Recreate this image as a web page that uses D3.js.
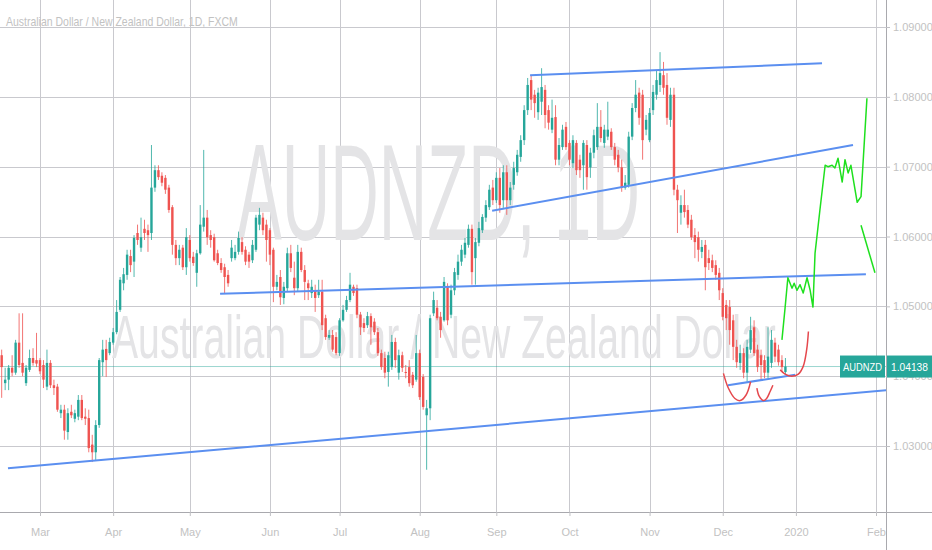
<!DOCTYPE html>
<html><head><meta charset="utf-8">
<script src="https://cdn.jsdelivr.net/npm/d3@7"></script>
<style>body{margin:0;background:#fff;}svg{display:block;font-family:"Liberation Sans",Arial,sans-serif;}</style>
</head><body><svg id="c" width="932" height="550"></svg>
<script>
// ---------- DATA ----------
const startDay = "2019-02-14";
const skipDays = ["2019-12-25"];
const opens = [1.0430,1.0390,1.0395,1.0412,1.0405,1.0448,1.0419,1.0390,1.0409,1.0426,1.0423,1.0423,1.0416,1.0385,1.0419,1.0387,1.0385,1.0347,1.0352,1.0320,1.0349,1.0339,1.0342,1.0366,1.0342,1.0340,1.0302,1.0291,1.0330,1.0420,1.0439,1.0433,1.0448,1.0463,1.0495,1.0533,1.0545,1.0572,1.0564,1.0605,1.0584,1.0611,1.0609,1.0605,1.0670,1.0695,1.0687,1.0684,1.0670,1.0642,1.0588,1.0569,1.0584,1.0556,1.0595,1.0571,1.0548,1.0576,1.0614,1.0627,1.0602,1.0599,1.0576,1.0562,1.0556,1.0545,1.0569,1.0569,1.0578,1.0592,1.0581,1.0574,1.0566,1.0581,1.0617,1.0627,1.0617,1.0609,1.0581,1.0528,1.0542,1.0512,1.0526,1.0576,1.0541,1.0526,1.0578,1.0552,1.0533,1.0519,1.0523,1.0516,1.0521,1.0483,1.0455,1.0459,1.0456,1.0433,1.0480,1.0495,1.0509,1.0528,1.0526,1.0488,1.0476,1.0473,1.0486,1.0478,1.0463,1.0433,1.0426,1.0406,1.0413,1.0449,1.0405,1.0430,1.0406,1.0413,1.0402,1.0395,1.0433,1.0399,1.0344,1.0354,1.0490,1.0498,1.0485,1.0480,1.0528,1.0488,1.0523,1.0545,1.0564,1.0574,1.0588,1.0611,1.0569,1.0591,1.0609,1.0627,1.0642,1.0670,1.0652,1.0684,1.0652,1.0692,1.0652,1.0674,1.0692,1.0714,1.0738,1.0781,1.0824,1.0803,1.0778,1.0793,1.0810,1.0781,1.0753,1.0771,1.0710,1.0728,1.0757,1.0734,1.0705,1.0734,1.0710,1.0702,1.0731,1.0699,1.0720,1.0728,1.0757,1.0734,1.0743,1.0750,1.0728,1.0717,1.0699,1.0670,1.0674,1.0743,1.0784,1.0806,1.0803,1.0753,1.0738,1.0781,1.0803,1.0817,1.0831,1.0817,1.0767,1.0803,1.0667,1.0634,1.0645,1.0638,1.0624,1.0602,1.0599,1.0578,1.0588,1.0569,1.0566,1.0559,1.0548,1.0519,1.0502,1.0499,1.0480,1.0442,1.0419,1.0433,1.0405,1.0438,1.0470,1.0438,1.0430,1.0423,1.0405,1.0419,1.0448,1.0438,1.0423,1.0406];
const highs = [1.0438,1.0412,1.0416,1.0430,1.0452,1.0490,1.0490,1.0416,1.0438,1.0440,1.0462,1.0426,1.0423,1.0438,1.0423,1.0395,1.0389,1.0359,1.0359,1.0354,1.0359,1.0352,1.0373,1.0373,1.0354,1.0352,1.0316,1.0337,1.0426,1.0452,1.0452,1.0455,1.0469,1.0509,1.0542,1.0555,1.0581,1.0581,1.0602,1.0617,1.0627,1.0624,1.0617,1.0731,1.0702,1.0702,1.0692,1.0688,1.0674,1.0645,1.0595,1.0588,1.0588,1.0612,1.0602,1.0578,1.0581,1.0645,1.0724,1.0638,1.0609,1.0604,1.0581,1.0569,1.0561,1.0552,1.0595,1.0588,1.0607,1.0599,1.0586,1.0578,1.0595,1.0631,1.0641,1.0634,1.0624,1.0612,1.0584,1.0545,1.0552,1.0535,1.0584,1.0588,1.0564,1.0588,1.0584,1.0559,1.0538,1.0538,1.0531,1.0538,1.0538,1.0488,1.0466,1.0466,1.0463,1.0483,1.0502,1.0515,1.0548,1.0531,1.0531,1.0492,1.0483,1.0492,1.0490,1.0483,1.0469,1.0438,1.0435,1.0435,1.0459,1.0455,1.0438,1.0435,1.0416,1.0423,1.0406,1.0459,1.0438,1.0403,1.0366,1.0488,1.0521,1.0509,1.0492,1.0542,1.0533,1.0531,1.0555,1.0574,1.0588,1.0598,1.0617,1.0617,1.0598,1.0621,1.0632,1.0652,1.0674,1.0681,1.0692,1.0698,1.0702,1.0702,1.0678,1.0707,1.0724,1.0745,1.0788,1.0827,1.0831,1.0810,1.0813,1.0841,1.0817,1.0788,1.0796,1.0788,1.0741,1.0760,1.0764,1.0738,1.0745,1.0738,1.0717,1.0738,1.0738,1.0727,1.0753,1.0791,1.0781,1.0760,1.0793,1.0755,1.0734,1.0724,1.0710,1.0688,1.0750,1.0791,1.0824,1.0813,1.0810,1.0774,1.0784,1.0817,1.0838,1.0864,1.0850,1.0834,1.0813,1.0813,1.0674,1.0659,1.0667,1.0645,1.0631,1.0612,1.0607,1.0595,1.0595,1.0581,1.0574,1.0566,1.0555,1.0526,1.0509,1.0509,1.0488,1.0452,1.0445,1.0440,1.0452,1.0485,1.0480,1.0445,1.0438,1.0430,1.0470,1.0466,1.0455,1.0445,1.0430,1.0426];
const lows = [1.0369,1.0380,1.0380,1.0400,1.0402,1.0412,1.0400,1.0386,1.0406,1.0415,1.0413,1.0403,1.0383,1.0380,1.0383,1.0373,1.0349,1.0340,1.0309,1.0309,1.0340,1.0334,1.0337,1.0337,1.0330,1.0291,1.0277,1.0280,1.0326,1.0400,1.0399,1.0430,1.0445,1.0460,1.0492,1.0523,1.0538,1.0549,1.0542,1.0588,1.0578,1.0595,1.0578,1.0595,1.0664,1.0681,1.0672,1.0661,1.0634,1.0574,1.0559,1.0559,1.0552,1.0545,1.0564,1.0558,1.0528,1.0574,1.0607,1.0588,1.0584,1.0564,1.0559,1.0548,1.0519,1.0528,1.0564,1.0566,1.0574,1.0574,1.0559,1.0555,1.0562,1.0578,1.0609,1.0602,1.0564,1.0559,1.0506,1.0523,1.0502,1.0503,1.0521,1.0549,1.0516,1.0521,1.0549,1.0509,1.0509,1.0512,1.0492,1.0512,1.0466,1.0452,1.0452,1.0435,1.0430,1.0429,1.0478,1.0492,1.0506,1.0515,1.0483,1.0459,1.0463,1.0469,1.0445,1.0459,1.0429,1.0409,1.0397,1.0385,1.0409,1.0412,1.0395,1.0406,1.0397,1.0385,1.0383,1.0392,1.0366,1.0352,1.0266,1.0337,1.0486,1.0480,1.0455,1.0478,1.0473,1.0483,1.0516,1.0538,1.0558,1.0569,1.0584,1.0531,1.0531,1.0586,1.0605,1.0621,1.0638,1.0645,1.0648,1.0634,1.0641,1.0631,1.0645,1.0667,1.0687,1.0707,1.0731,1.0774,1.0781,1.0770,1.0767,1.0774,1.0755,1.0753,1.0748,1.0702,1.0702,1.0724,1.0724,1.0702,1.0698,1.0688,1.0684,1.0667,1.0667,1.0684,1.0712,1.0724,1.0735,1.0727,1.0738,1.0724,1.0702,1.0692,1.0664,1.0667,1.0670,1.0738,1.0778,1.0760,1.0710,1.0745,1.0735,1.0774,1.0796,1.0807,1.0803,1.0760,1.0757,1.0659,1.0605,1.0617,1.0627,1.0612,1.0595,1.0569,1.0564,1.0569,1.0523,1.0552,1.0549,1.0538,1.0509,1.0480,1.0466,1.0445,1.0423,1.0412,1.0409,1.0397,1.0392,1.0433,1.0429,1.0406,1.0395,1.0397,1.0397,1.0412,1.0420,1.0415,1.0406,1.0402];
const closes = [1.0413,1.0395,1.0412,1.0405,1.0448,1.0416,1.0405,1.0412,1.0426,1.0419,1.0418,1.0407,1.0395,1.0419,1.0387,1.0383,1.0352,1.0352,1.0322,1.0347,1.0344,1.0347,1.0366,1.0340,1.0339,1.0297,1.0291,1.0330,1.0423,1.0438,1.0423,1.0449,1.0463,1.0492,1.0538,1.0546,1.0574,1.0559,1.0598,1.0595,1.0599,1.0605,1.0602,1.0670,1.0695,1.0685,1.0677,1.0667,1.0638,1.0588,1.0569,1.0581,1.0556,1.0599,1.0569,1.0562,1.0576,1.0617,1.0627,1.0599,1.0595,1.0566,1.0562,1.0552,1.0542,1.0533,1.0584,1.0578,1.0598,1.0578,1.0564,1.0564,1.0588,1.0627,1.0631,1.0609,1.0595,1.0574,1.0528,1.0535,1.0513,1.0528,1.0576,1.0555,1.0526,1.0578,1.0552,1.0535,1.0526,1.0528,1.0512,1.0521,1.0473,1.0456,1.0459,1.0438,1.0433,1.0480,1.0495,1.0509,1.0531,1.0519,1.0488,1.0470,1.0469,1.0486,1.0470,1.0463,1.0433,1.0413,1.0405,1.0430,1.0449,1.0423,1.0430,1.0412,1.0405,1.0390,1.0387,1.0433,1.0370,1.0356,1.0354,1.0483,1.0509,1.0483,1.0466,1.0535,1.0480,1.0523,1.0549,1.0564,1.0581,1.0591,1.0611,1.0549,1.0592,1.0612,1.0628,1.0645,1.0667,1.0652,1.0684,1.0645,1.0692,1.0652,1.0670,1.0698,1.0717,1.0738,1.0781,1.0817,1.0796,1.0791,1.0806,1.0814,1.0774,1.0763,1.0770,1.0710,1.0731,1.0753,1.0728,1.0710,1.0738,1.0695,1.0695,1.0734,1.0685,1.0720,1.0745,1.0757,1.0741,1.0753,1.0753,1.0728,1.0710,1.0699,1.0670,1.0677,1.0743,1.0784,1.0803,1.0770,1.0738,1.0767,1.0777,1.0807,1.0824,1.0834,1.0813,1.0770,1.0803,1.0667,1.0652,1.0645,1.0635,1.0617,1.0599,1.0592,1.0581,1.0585,1.0556,1.0562,1.0555,1.0545,1.0523,1.0485,1.0483,1.0466,1.0442,1.0420,1.0433,1.0405,1.0442,1.0466,1.0433,1.0413,1.0416,1.0405,1.0428,1.0452,1.0428,1.0420,1.0413,1.04138];
const priceTicks = [1.03, 1.04, 1.05, 1.06, 1.07, 1.08, 1.09];
const monthTicks = [["2019-03-01","Mar"],["2019-04-01","Apr"],["2019-05-01","May"],["2019-06-03","Jun"],["2019-07-01","Jul"],["2019-08-01","Aug"],["2019-09-02","Sep"],["2019-10-01","Oct"],["2019-11-01","Nov"],["2019-12-02","Dec"],["2020-01-01","2020"],["2020-02-03","Feb"]];
// drawings: [bar index (fractional), price]
const trendLines = [
  [[1.81,1.0268],[253.9,1.0380]],
  [[62.7,1.0518],[248.1,1.0546]],
  [[140.8,1.0637],[244.4,1.0731]],
  [[151.7,1.0831],[235.5,1.0848]],
  [[208.5,1.0387],[227.8,1.0402]]
];
const redArcs = [
  [[207.2,1.0404],[208.6,1.0383],[210.5,1.0368],[212.0,1.0365],[213.7,1.0373],[215.0,1.0392]],
  [[216.8,1.0383],[217.5,1.0371],[218.7,1.0365],[219.6,1.0368],[220.6,1.0378],[221.4,1.0387]],
  [[223.5,1.0409],[224.9,1.0403],[226.8,1.0400],[228.7,1.0403],[230.1,1.0414],[231.1,1.0438],[231.6,1.0464]]
];
const greenPaths = [
  [[224.0,1.0452],[224.9,1.0498],[225.7,1.0541],[226.9,1.0526],[227.5,1.0533],[228.3,1.0523],[229.2,1.0531],[230.1,1.0519],[231.2,1.0541],[232.1,1.0523],[232.9,1.0499],[233.5,1.0576],[234.9,1.0638],[236.4,1.0702],[237.2,1.0700],[238.4,1.0702],[239.2,1.0698],[240.1,1.0712],[241.3,1.0678],[242.1,1.0710],[243.0,1.0691],[243.8,1.0702],[245.6,1.0649],[246.7,1.0657],[248.4,1.0798]],
  [[246.7,1.0616],[250.7,1.0548]]
];
const symbol = "AUDNZD";
const title = "Australian Dollar / New Zealand Dollar, 1D, FXCM";
const wmMain = "AUDNZD, 1D";
const wmSub = "Australian Dollar / New Zealand Dollar";

// ---------- CALENDAR ----------
const parse = d3.utcParse("%Y-%m-%d"), fmt = d3.utcFormat("%Y-%m-%d");
const days = [];
for (let d = parse(startDay); days.length < 270; d = d3.utcDay.offset(d, 1)) {
  const wd = d.getUTCDay();
  if (wd === 0 || wd === 6 || skipDays.includes(fmt(d))) continue;
  days.push(fmt(d));
}
const idx = s => days.indexOf(s);
const bars = closes.map((c, i) => ({i, o: opens[i], h: highs[i], l: lows[i], c}));

// ---------- LAYOUT ----------
const W = 932, H = 550, PR = 886, PB = 512;
const svg = d3.select("#c");
const x = d3.scaleLinear().domain([idx("2019-03-01"), idx("2020-02-03")]).range([40, 876]);
const y = d3.scaleLinear().domain([1.03, 1.09]).range([446, 27]);
const gridC = "#c9c9ce", textC = "#c2c2c2";

// helper: text squeezed horizontally to a given width (screenshot is condensed)
function squeezed(parent, str, x0, y0, size, width, fill) {
  const g = parent.append("g");
  const t = g.append("text").text(str).attr("font-size", size).attr("fill", fill);
  const w = t.node().getComputedTextLength();
  g.attr("transform", `translate(${x0},${y0}) scale(${width / w},1)`);
  return g;
}

svg.append("rect").attr("width", W).attr("height", H).attr("fill", "#fff");
svg.append("clipPath").attr("id", "pane").append("rect").attr("width", PR).attr("height", PB);

const pane = svg.append("g").attr("clip-path", "url(#pane)");
// grid
pane.selectAll(".hg").data(priceTicks).join("line")
  .attr("x1", 0).attr("x2", PR).attr("y1", d => Math.round(y(d)) + 0.5).attr("y2", d => Math.round(y(d)) + 0.5)
  .attr("stroke", gridC);
pane.selectAll(".vg").data(monthTicks).join("line")
  .attr("y1", 0).attr("y2", PB).attr("x1", d => Math.round(x(idx(d[0]))) + 0.5).attr("x2", d => Math.round(x(idx(d[0]))) + 0.5)
  .attr("stroke", gridC);

// watermark
squeezed(pane, wmMain, 237, 240, 137, 403, "#e4e4e6");
squeezed(pane, wmSub, 112, 358, 62, 664, "#e4e4e6");

// current price line
const last = bars[bars.length - 1];
pane.append("line").attr("x1", 0).attr("x2", PR).attr("y1", y(last.c)).attr("y2", y(last.c))
  .attr("stroke", "#26a69a").attr("stroke-opacity", 0.45);

// candles
const up = "#26a69a", dn = "#ef5350";
const cg = pane.append("g");
cg.selectAll(".w").data(bars).join("line")
  .attr("x1", d => x(d.i)).attr("x2", d => x(d.i)).attr("y1", d => y(d.h)).attr("y2", d => y(d.l))
  .attr("stroke", d => d.c >= d.o ? up : dn).attr("stroke-width", 1).attr("stroke-opacity", 0.8);
cg.selectAll(".b").data(bars).join("rect")
  .attr("x", d => x(d.i) - 1.2).attr("width", 2.4)
  .attr("y", d => y(Math.max(d.o, d.c)))
  .attr("height", d => Math.max(1, Math.abs(y(d.o) - y(d.c))))
  .attr("fill", d => d.c >= d.o ? up : dn);

// drawings
const lg = d3.line().x(d => x(d[0])).y(d => y(d[1]));
pane.selectAll(".tl").data(trendLines).join("path").attr("d", lg)
  .attr("fill", "none").attr("stroke", "#5b8ff0").attr("stroke-width", 2);
const arc = d3.line().x(d => x(d[0])).y(d => y(d[1])).curve(d3.curveCatmullRom);
pane.selectAll(".ra").data(redArcs).join("path").attr("d", arc)
  .attr("fill", "none").attr("stroke", "#e5484d").attr("stroke-width", 1.5);
pane.selectAll(".gp").data(greenPaths).join("path").attr("d", lg)
  .attr("fill", "none").attr("stroke", "#1ee01e").attr("stroke-width", 1.5).attr("stroke-linejoin", "round");

// title
squeezed(svg, title, 6, 26, 13, 232, textC);

// axes borders
svg.append("line").attr("x1", 0).attr("x2", W).attr("y1", PB + 0.5).attr("y2", PB + 0.5).attr("stroke", "#a9a9ae");
svg.append("line").attr("x1", PR + 0.5).attr("x2", PR + 0.5).attr("y1", 0).attr("y2", H).attr("stroke", "#a9a9ae");

// price axis
const ya = d3.axisRight(y).tickValues(priceTicks).tickFormat(d3.format(".5f")).tickSize(4).tickPadding(3);
const yg = svg.append("g").attr("transform", `translate(${PR},0)`).call(ya);
yg.select(".domain").remove();
yg.selectAll("line").attr("stroke", "#c0c0c4");
yg.selectAll("text").attr("fill", textC).attr("font-size", 11).attr("font-family", "Liberation Sans, Arial, sans-serif");

// time axis
const xa = d3.axisBottom(x).tickValues(monthTicks.map(d => idx(d[0])))
  .tickFormat((d, k) => monthTicks[k][1]).tickSize(4).tickPadding(12);
const xg = svg.append("g").attr("transform", `translate(0,${PB})`).call(xa);
xg.select(".domain").remove();
xg.selectAll("line").attr("stroke", "#c0c0c4");
xg.selectAll("text").attr("fill", textC).attr("font-size", 11).attr("font-family", "Liberation Sans, Arial, sans-serif");

// price labels (cover the axis label beneath, as in the reference)
const yc = y(last.c);
svg.append("rect").attr("x", 840).attr("y", yc - 11).attr("width", 45).attr("height", 22).attr("fill", "#26a69a");
squeezed(svg, symbol, 843, yc + 4, 11, 39, "#fff");
svg.append("rect").attr("x", 887).attr("y", yc - 11).attr("width", 45).attr("height", 22).attr("fill", "#26a69a");
squeezed(svg, d3.format(".5f")(last.c), 891, yc + 4, 11, 37, "#fff");
</script></body></html>
